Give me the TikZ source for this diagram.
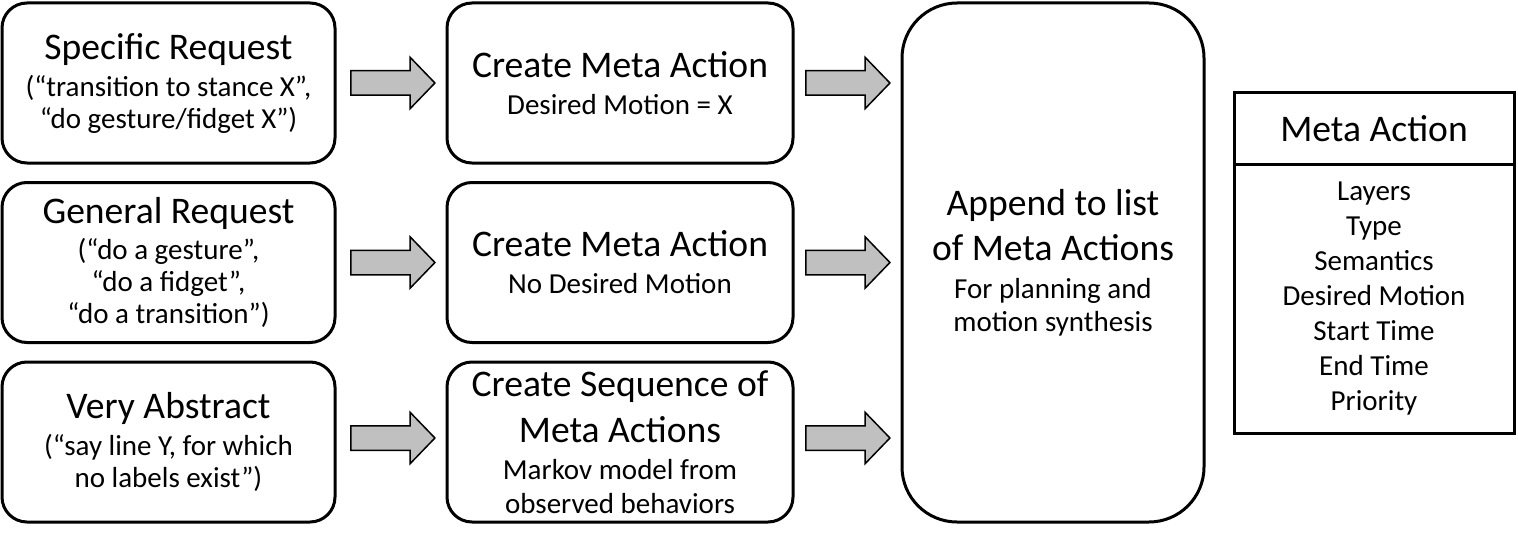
\documentclass[tikz,border=0pt]{standalone}
\usepackage{fontspec}
\setmainfont{Carlito}
\usetikzlibrary{shapes.arrows}

\newcommand{\headfont}{\fontsize{18.8}{22}\selectfont}
\newcommand{\bodyfont}{\fontsize{14.5}{16}\selectfont}

\tikzset{
	reqbox/.style={draw, line width=1.5pt, rounded corners=12.5pt, minimum width=166.5pt, minimum height=80pt, inner sep=0pt, align=center, font=\bodyfont},
	actbox/.style={reqbox, minimum width=173pt},
	listbox/.style={reqbox, minimum width=151pt, minimum height=259.5pt, rounded corners=27.5pt},
	tabbox/.style={draw, line width=1.5pt, minimum width=140pt, inner sep=0pt, align=center, font=\fontsize{14.5}{17.5}\selectfont},
	blockarr/.style={single arrow, draw, line width=0.75pt, fill={rgb,255:red,192;green,192;blue,192}, minimum height=42pt, minimum width=25pt, inner xsep=0pt, inner ysep=5.75pt, single arrow head extend=6.75pt, single arrow tip angle=92}
}

\begin{document}
\begin{tikzpicture}[x=0.5pt,y=0.5pt,yscale=-1,xscale=1]
	\useasboundingbox (0,0) rectangle (1518,540);

	% Text Node
	\node[reqbox] (spec) at (168.5,83) {\headfont Specific Request\\[2.5pt]\bodyfont (“transition to stance X”,\\\bodyfont “do gesture/fidget X”)};
	% Text Node
	\node[reqbox] (gen) at (168.5,262.5) {\headfont General Request\\[2pt]\bodyfont (“do a gesture”,\\\bodyfont “do a fidget”,\\\bodyfont “do a transition”)};
	% Text Node
	\node[reqbox] (abs) at (168.5,442) {\headfont Very Abstract\\[2.5pt]\bodyfont (“say line Y, for which\\\bodyfont no labels exist”)};

	% Text Node
	\node[actbox] (mact) at (620,83) {\headfont Create Meta Action\\[2.5pt]\bodyfont Desired Motion = X};
	% Text Node
	\node[actbox] (nact) at (620,262.5) {\headfont Create Meta Action\\[2.5pt]\bodyfont No Desired Motion};
	% Text Node
	\node[actbox] (seq) at (620,442) {\headfont Create Sequence of\\[6pt]\headfont Meta Actions\\[2.5pt]\bodyfont Markov model from\\[1pt]\bodyfont observed behaviors};

	% Text Node
	\node[listbox] (lst) at (1053,262.5) {\headfont Append to list\\[5.5pt]\headfont of Meta Actions\\[3pt]\bodyfont For planning and\\[0.5pt]\bodyfont motion synthesis};

	% Text Node
	\node[tabbox, minimum height=35.5pt] (hd) at (1374,128.5) {\headfont Meta Action};
	\node[tabbox, minimum height=134.5pt] (fld) at (1374,298.5) {Layers\\Type\\Semantics\\Desired Motion\\Start Time\\End Time\\Priority};

	% Block Arrow
	\node[blockarr] (a1) at (387,83) {};
	\node[blockarr] (a2) at (387,262.5) {};
	\node[blockarr] (a3) at (387,438) {};
	\node[blockarr] (b1) at (842,83) {};
	\node[blockarr] (b2) at (842,262.5) {};
	\node[blockarr] (b3) at (842,438) {};

\end{tikzpicture}
\end{document}
